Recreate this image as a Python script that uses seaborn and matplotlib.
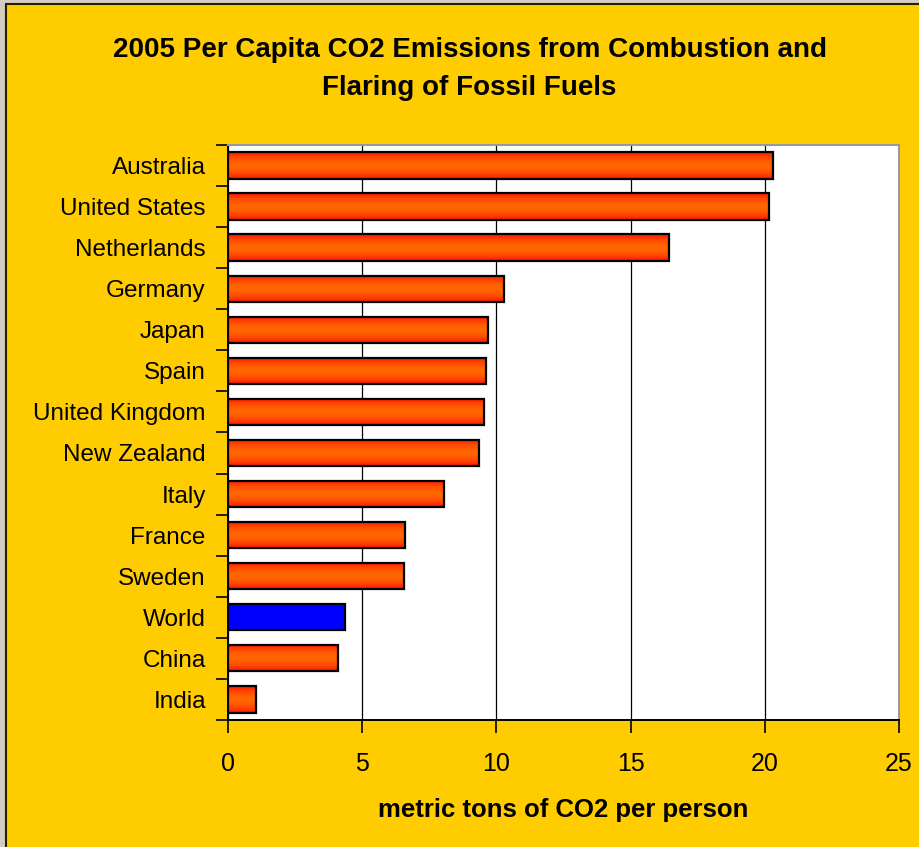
import numpy as np
import matplotlib
matplotlib.use("Agg")
from matplotlib import pyplot as plt
from matplotlib.patches import Rectangle
import seaborn as sns
import pandas as pd

# values
countries = ["Australia", "United States", "Netherlands", "Germany", "Japan",
             "Spain", "United Kingdom", "New Zealand", "Italy", "France",
             "Sweden", "World", "China", "India"]
emissions = [20.3, 20.15, 16.45, 10.27, 9.7, 9.63, 9.55, 9.36, 8.06, 6.6,
             6.57, 4.37, 4.1, 1.04]
x_ticks = [0, 5, 10, 15, 20, 25]

df = pd.DataFrame({"country": countries, "co2": emissions})

sns.set_style("white")
plt.rcParams["font.family"] = ["Liberation Sans", "DejaVu Sans"]
plt.rcParams["text.color"] = "black"
plt.rcParams["axes.labelcolor"] = "black"
plt.rcParams["xtick.color"] = "black"
plt.rcParams["ytick.color"] = "black"

fig = plt.figure(figsize=(9.19, 8.47), dpi=100, facecolor="#FFCC00")
ax = fig.add_axes([0.2481, 0.15, 0.7301, 0.6789])
ax.set_facecolor("white")

sns.barplot(data=df, x="co2", y="country", order=countries, orient="h",
            color="#FF5000", width=0.64, edgecolor="black", linewidth=1.6,
            ax=ax, zorder=3)

# vertical gradient (red edges, orange middle) clipped to each bar
grad = np.abs(np.linspace(-1, 1, 64)) ** 1.8
cmap = matplotlib.colors.LinearSegmentedColormap.from_list(
    "fire", ["#FF6600", "#FF1500"])
for p, name in zip(ax.patches, countries):
    x0, y0 = p.get_x(), p.get_y()
    w, h = p.get_width(), p.get_height()
    if name == "World":
        p.set_facecolor("#0000FF")
        continue
    im = ax.imshow(grad.reshape(-1, 1), cmap=cmap, aspect="auto",
                   extent=[x0, x0 + w, y0 + h, y0], zorder=3.5,
                   interpolation="bilinear")
    im.set_clip_path(p)
    p.set_zorder(4)
    p.set_facecolor("none")

ax.set_xlim(0, 25)
ax.set_ylim(len(countries) - 0.5, -0.5)
ax.set_xticks(x_ticks)
ax.set_xticklabels([str(t) for t in x_ticks])
ax.xaxis.grid(True, color="black", linewidth=0.9, zorder=1)
ax.set_axisbelow(True)

# category boundary ticks on the y axis
ax.set_yticks(np.arange(len(countries) + 1) - 0.5, minor=True)
ax.tick_params(axis="y", which="major", length=0, pad=16, labelsize=17.5)
ax.tick_params(axis="y", which="minor", length=9, width=1.2, color="black",
               direction="out", left=True)
ax.tick_params(axis="x", which="major", length=9, width=1.2, color="black",
               direction="out", bottom=True, pad=14, labelsize=18)

for side in ["top", "right"]:
    ax.spines[side].set_color("#999999")
    ax.spines[side].set_linewidth(1.5)
for side in ["left", "bottom"]:
    ax.spines[side].set_color("black")
    ax.spines[side].set_linewidth(1.4)

ax.set_ylabel("")
ax.set_xlabel("metric tons of CO2 per person", fontsize=18.5, fontweight="bold",
              labelpad=16)

fig.text(0.511, 0.956, "2005 Per Capita CO2 Emissions from Combustion and\nFlaring of Fossil Fuels",
         ha="center", va="top", fontsize=20, fontweight="bold", linespacing=1.6)

# outer frame: light strips on top and left, dark line inside them
fig.patches.append(Rectangle((0, 0), 5 / 919, 1, transform=fig.transFigure,
                             facecolor="#D4CCC0", edgecolor="none", zorder=0))
fig.patches.append(Rectangle((0, 1 - 4 / 847), 1, 4 / 847,
                             transform=fig.transFigure, facecolor="#D4CCC0",
                             edgecolor="none", zorder=0))
fig.patches.append(Rectangle((5.5 / 919, -0.01), 1, 1 - 4.5 / 847 + 0.01,
                             transform=fig.transFigure, facecolor="none",
                             edgecolor="#222200", linewidth=1.5, zorder=1))

fig.savefig("out.png", dpi=100, facecolor=fig.get_facecolor())
